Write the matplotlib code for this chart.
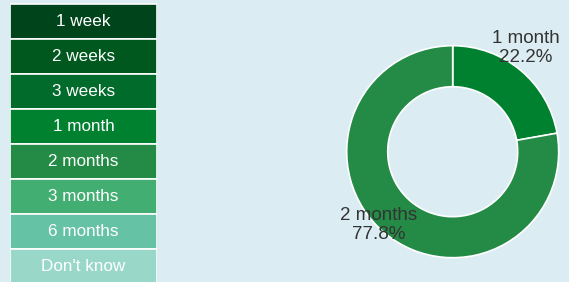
import matplotlib.pyplot as plt
from matplotlib.patches import Rectangle

categories = ["1 week", "2 weeks", "3 weeks", "1 month", "2 months",
              "3 months", "6 months", "Don't know"]
colors = ["#00441b", "#00581f", "#006b2a", "#00812f", "#238b45",
          "#43ae72", "#66c2a4", "#99d8c9"]

pie_labels = ["1 month", "2 months"]
pie_values = [22.2, 77.8]
pie_colors = ["#00812f", "#238b45"]

BG = "#dbedf3"
W, H = 569, 282

fig = plt.figure(figsize=(W / 100, H / 100), dpi=100, facecolor=BG)
plt.rcParams["font.family"] = ["Liberation Sans", "DejaVu Sans"]

# legend column on the left
leg = fig.add_axes([10 / W, 0, 147 / W, 1])
leg.set_xlim(0, 147)
leg.set_ylim(H, 0)
leg.axis("off")
row_h = 35
top = 4
for i, (cat, col) in enumerate(zip(categories, colors)):
    y = top + i * row_h
    leg.add_patch(Rectangle((0, y), 147, row_h, facecolor=col,
                            edgecolor="white", linewidth=1.2))
    leg.text(73.5, y + row_h / 2, cat, color="white", fontsize=12.3,
             ha="center", va="center")

# donut
cx, cy, r = 452.7, 151.7, 106
ax = fig.add_axes([(cx - r) / W, (H - cy - r) / H, 2 * r / W, 2 * r / H])
ax.set_facecolor(BG)
ax.pie(pie_values, colors=pie_colors, startangle=90, counterclock=False,
       radius=1, wedgeprops=dict(width=0.387, edgecolor="white", linewidth=1.2))
ax.set_xlim(-1, 1)
ax.set_ylim(-1, 1)
ax.set_aspect("equal")
ax.axis("off")

label_pos = [(0.69, 0.98), (-0.70, -0.69)]
for lab, val, (x, y) in zip(pie_labels, pie_values, label_pos):
    ax.text(x, y, f"{lab}\n{val:.1f}%", ha="center", va="center",
            color="#333333", fontsize=13.5, linespacing=1.12, clip_on=False)

fig.savefig("out.png", dpi=100, facecolor=BG)
